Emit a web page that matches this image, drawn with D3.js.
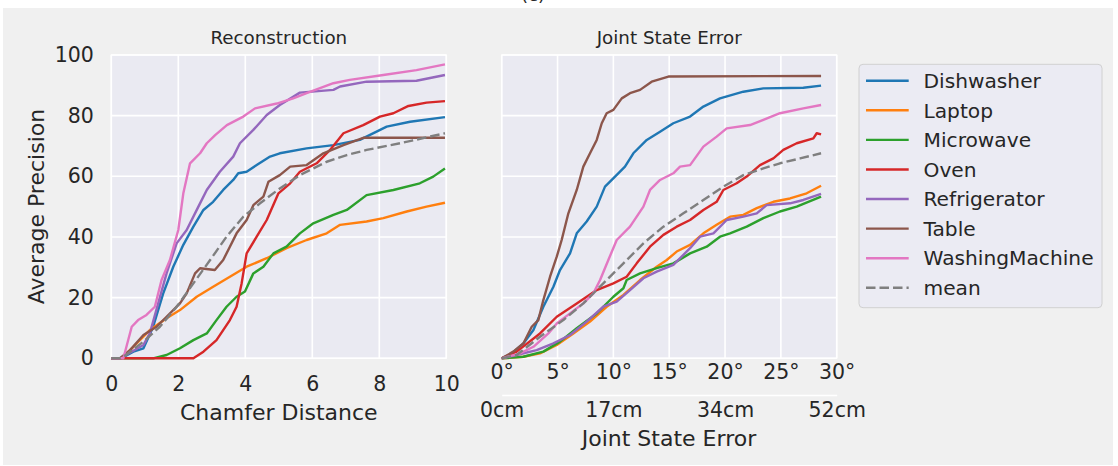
<!DOCTYPE html>
<html>
<head>
<meta charset="utf-8">
<script src="https://cdn.jsdelivr.net/npm/d3@7/dist/d3.min.js"></script>
<style>
body { margin: 0; background: #fff; }
text { font-family: "DejaVu Sans", sans-serif; fill: #262626; }
</style>
</head>
<body>
<div id="chart"></div>
<script>
// categories and colours
var categories = ["Dishwasher", "Laptop", "Microwave", "Oven", "Refrigerator", "Table", "WashingMachine", "mean"];
var colors = ["#1f77b4", "#ff7f0e", "#2ca02c", "#d62728", "#9467bd", "#8c564b", "#e377c2", "#7f7f7f"];

// left panel: chamfer distance vs AP
var reconDishwasher = [[0,0],[0.3,0],[0.66,2.2],[0.96,3.3],[1.25,10.4],[1.55,21.4],[1.85,30.2],[2.15,37.4],[2.45,43.4],[2.75,48.9],[3.04,51.6],[3.34,55.5],[3.64,58.8],[3.79,61],[4.04,61.5],[4.34,63.7],[4.74,66.5],[5.03,67.6],[5.83,69.2],[6.63,70.3],[7.42,72],[8.22,76.4],[8.92,78],[9.96,79.5]];
var reconLaptop = [[0,0],[0.3,0],[0.66,3.8],[1.15,9.3],[1.65,13.2],[2.05,15.9],[2.55,20.3],[3.04,23.6],[3.54,26.9],[4.04,30.2],[4.64,33],[5.23,36.3],[5.83,39],[6.43,41.2],[6.83,44],[7.62,45.1],[8.12,46.2],[8.82,48.4],[9.41,50],[9.96,51.3]];
var reconMicrowave = [[0,0],[1.25,0],[1.65,1.1],[2.05,3.3],[2.45,6],[2.85,8.2],[3.14,12.6],[3.44,17],[3.74,20.3],[3.99,22],[4.24,28],[4.54,30.2],[4.84,34.6],[5.23,36.8],[5.63,41.2],[6.03,44.5],[6.63,47.3],[7.03,48.9],[7.62,53.8],[8.42,55.5],[9.21,57.7],[9.61,59.9],[9.96,62.6]];
var reconOven = [[0,0],[2.45,0],[2.75,2.2],[3.14,6],[3.54,12.6],[3.74,17],[3.89,24.7],[4.04,34.6],[4.34,40.1],[4.64,45.6],[4.99,54.4],[5.34,57.7],[5.63,61.5],[6.13,64.3],[6.53,68.7],[6.93,74.2],[7.52,76.9],[8.02,79.7],[8.42,80.8],[8.87,83.2],[9.41,84.3],[9.96,84.8]];
var reconRefrigerator = [[0,0],[0.26,0],[0.96,4.4],[1.15,8.2],[1.4,18.1],[1.65,28],[1.95,37.9],[2.25,42.3],[2.6,50],[2.85,55.5],[3.24,61.5],[3.64,66.5],[3.84,70.9],[4.24,75.3],[4.64,80.2],[5.03,83.5],[5.63,87.6],[6.63,88.5],[6.83,89.6],[7.62,91.2],[9.11,91.5],[9.96,93.4]];
var reconTable = [[0,0],[0.26,0],[0.56,2.7],[0.96,7.7],[1.35,10.4],[1.65,13.7],[2.05,18.1],[2.25,21.4],[2.5,28],[2.65,29.7],[3.09,29.1],[3.34,32.4],[3.54,36.8],[3.74,41.2],[4.04,45.6],[4.24,50.5],[4.54,53.3],[4.69,58.2],[5.03,60.4],[5.34,63.2],[5.83,63.7],[6.33,67.6],[6.93,70.3],[7.52,72.7],[9.96,72.7]];
var reconWashingMachine = [[0,0],[0.36,0],[0.61,10.4],[0.8,12.6],[1.05,14.3],[1.3,17],[1.5,25.8],[1.75,32.4],[2.0,42.3],[2.15,54.4],[2.35,64.3],[2.65,67.6],[2.85,70.9],[3.1,73.6],[3.45,76.9],[3.94,79.7],[4.29,82.4],[4.94,84],[5.43,85.7],[5.83,87.4],[6.63,90.7],[7.12,91.8],[8.12,93.4],[9.11,95],[9.96,96.9]];
var reconMean = [[0,0],[0.3,0],[0.96,5.5],[1.45,10.4],[1.95,17],[2.45,24.7],[2.95,32.4],[3.44,40.1],[3.94,46.7],[4.44,51.1],[5.03,56],[5.63,60.4],[6.43,64.8],[7.03,67],[7.62,68.7],[8.62,70.9],[9.96,74.2]];

// right panel: joint state error (degrees) vs AP
var jointDishwasher = [[0,0],[0.75,1.1],[1.94,4.9],[2.84,9.3],[3.73,17],[4.63,23.6],[5.22,29.1],[6.12,34.6],[6.72,41.2],[7.61,45.1],[8.51,50],[9.25,56.6],[10.15,59.9],[11.04,63.2],[11.79,67.6],[12.99,72],[14.18,74.7],[15.37,77.5],[16.87,79.7],[18.06,83],[19.55,85.7],[21.64,87.9],[23.43,89],[27.01,89.2],[28.6,89.9]];
var jointLaptop = [[0,0],[1.94,0.5],[3.43,1.6],[4.93,4.4],[6.42,8.2],[7.91,12.1],[9.4,17],[10.9,20.9],[12.39,25.8],[13.88,30.2],[14.78,32.4],[15.67,35.2],[16.87,37.4],[18.06,41.2],[19.25,44],[20.45,46.7],[21.64,47.3],[22.84,49.5],[24.33,51.6],[25.82,52.7],[27.31,54.4],[28.6,56.9]];
var jointMicrowave = [[0,0],[1.94,0.5],[3.73,2.2],[5.22,5.5],[6.72,9.9],[8.51,14.8],[10.0,20.3],[10.9,23.1],[11.19,25.8],[12.39,28],[13.88,29.7],[15.37,31.3],[16.87,34.6],[18.36,36.8],[19.55,40.1],[20.45,41.2],[21.94,43.4],[23.43,46.2],[24.92,48.4],[26.42,50],[28.6,53.3]];
var jointOven = [[0,0],[1.34,2.2],[3.43,8.2],[4.93,13.7],[6.72,18.1],[8.51,22.5],[10.0,24.7],[11.19,26.9],[12.09,31.3],[13.28,36.8],[14.48,40.7],[15.67,43.4],[16.87,45.6],[18.06,48.9],[19.25,51.6],[19.85,55.5],[21.04,57.7],[21.94,59.9],[23.13,63.7],[24.33,65.9],[25.22,68.7],[26.42,70.9],[27.91,72.5],[28.21,74.2],[28.6,73.8]];
var jointRefrigerator = [[0,0],[1.34,1.1],[3.13,2.7],[4.63,4.9],[6.12,7.7],[7.61,12.1],[9.1,17],[10.3,18.7],[11.49,22.5],[12.69,26.4],[13.88,28.6],[15.37,30.8],[16.87,36.3],[17.76,40.1],[18.96,41.2],[20.15,45.6],[21.64,46.7],[22.84,47.8],[23.73,50.5],[25.82,51.1],[27.01,52.2],[28.6,54.2]];
var jointTable = [[0,0],[1.04,2.2],[1.94,4.9],[2.69,10.4],[3.28,12.6],[3.73,19.2],[4.33,26.9],[4.93,33.5],[5.37,39],[5.97,47.8],[6.72,55.5],[7.31,63.2],[7.91,67.6],[8.51,72],[8.96,77.5],[9.4,80.8],[10.0,81.9],[10.75,85.7],[11.49,87.4],[12.39,88.5],[13.43,91.2],[14.93,92.9],[28.6,93.1]];
var jointWashingMachine = [[0,0],[1.64,1.6],[2.84,3.8],[4.18,8.2],[4.93,11.5],[6.12,14.8],[7.31,18.1],[8.21,21.4],[8.81,25.8],[9.55,32.4],[10.3,39],[11.49,43.4],[12.69,50],[13.28,55.5],[14.18,58.8],[15.37,61],[15.97,63.2],[16.87,63.7],[18.06,69.8],[19.25,73.1],[20.15,75.8],[22.24,76.9],[23.43,78.6],[24.92,80.8],[27.01,82.4],[28.6,83.5]];
var jointMean = [[0,0],[1.34,1.1],[3.43,7.1],[5.52,12.6],[7.31,18.1],[9.1,24.7],[10.9,31.3],[12.69,37.9],[14.48,43.4],[16.27,47.8],[18.06,52.2],[19.85,56.6],[21.64,60.4],[23.43,62.6],[24.92,64.3],[26.72,65.9],[28.6,67.6]];

var reconSeries = [reconDishwasher, reconLaptop, reconMicrowave, reconOven, reconRefrigerator, reconTable, reconWashingMachine, reconMean];
var jointSeries = [jointDishwasher, jointLaptop, jointMicrowave, jointOven, jointRefrigerator, jointTable, jointWashingMachine, jointMean];

// tick labels
var reconTicks = [0, 2, 4, 6, 8, 10];
var apTicks = [0, 20, 40, 60, 80, 100];
var degTicks = [0, 5, 10, 15, 20, 25, 30];
var cmTickDeg = [0, 10, 20, 30];
var cmLabels = ["0cm", "17cm", "34cm", "52cm"];

var width = 1118, height = 466;

var svg = d3.select("#chart")
    .append("svg")
    .attr("width", width)
    .attr("height", height);

// figure background
svg.append("rect")
    .attr("x", 3).attr("y", 8)
    .attr("width", 1110).attr("height", 457)
    .attr("fill", "#f0f0f0");

svg.append("text")
    .attr("x", 533).attr("y", 1)
    .attr("text-anchor", "middle")
    .style("font-size", "18px")
    .text("(c)");

var plotTop = 55, plotBottom = 358.3;

var y = d3.scaleLinear().domain([0, 100]).range([plotBottom, plotTop]);
var xRecon = d3.scaleLinear().domain([0, 10]).range([111.3, 446.3]);
var xJoint = d3.scaleLinear().domain([0, 30]).range([501.7, 836.7]);

var line = function(x) {
    return d3.line().x(function(d) { return x(d[0]); }).y(function(d) { return y(d[1]); });
};

function drawPanel(x, xTicks, series, title) {
    var g = svg.append("g");
    g.append("rect")
        .attr("x", x.range()[0]).attr("y", plotTop)
        .attr("width", x.range()[1] - x.range()[0]).attr("height", plotBottom - plotTop)
        .attr("fill", "#eaeaf2")
        .attr("stroke", "#fff").attr("stroke-width", 1.25);

    // grid
    g.selectAll(".vgrid").data(xTicks).join("line")
        .attr("x1", function(d) { return x(d); }).attr("x2", function(d) { return x(d); })
        .attr("y1", plotTop).attr("y2", plotBottom)
        .attr("stroke", "#fff").attr("stroke-width", 1.6);
    g.selectAll(".hgrid").data(apTicks).join("line")
        .attr("x1", x.range()[0]).attr("x2", x.range()[1])
        .attr("y1", function(d) { return y(d); }).attr("y2", function(d) { return y(d); })
        .attr("stroke", "#fff").attr("stroke-width", 1.6);

    // curves, mean drawn last
    series.forEach(function(s, i) {
        g.append("path")
            .datum(s)
            .attr("d", line(x))
            .attr("fill", "none")
            .attr("stroke", colors[i])
            .attr("stroke-width", 2.4)
            .attr("stroke-linejoin", "round")
            .attr("stroke-dasharray", categories[i] == "mean" ? "9.5,4" : null);
    });

    g.append("text")
        .attr("x", (x.range()[0] + x.range()[1]) / 2).attr("y", 44)
        .attr("text-anchor", "middle")
        .style("font-size", "18.3px")
        .text(title);
    return g;
}

drawPanel(xRecon, reconTicks, reconSeries, "Reconstruction");
drawPanel(xJoint, degTicks, jointSeries, "Joint State Error");

function styleAxis(sel, ty) {
    sel.select(".domain").remove();
    sel.attr("font-family", null).attr("font-size", null);
    sel.selectAll("text").style("font-size", "20.5px").attr("fill", "#262626");
    if (ty != null) sel.selectAll("text").attr("y", ty).attr("dy", null);
}

// left y axis
svg.append("g")
    .attr("transform", "translate(111.3,0)")
    .call(d3.axisLeft(y).tickValues(apTicks).tickSize(0).tickPadding(17.5))
    .call(function(s) { styleAxis(s, null); });

// left x axis
svg.append("g")
    .attr("transform", "translate(0," + plotBottom + ")")
    .call(d3.axisBottom(xRecon).tickValues(reconTicks).tickSize(0))
    .call(function(s) { styleAxis(s, 33); });

// right x axis, degrees
svg.append("g")
    .attr("transform", "translate(0," + plotBottom + ")")
    .call(d3.axisBottom(xJoint).tickValues(degTicks).tickSize(0).tickFormat(function(d) { return d + "°"; }))
    .call(function(s) { styleAxis(s, 20.7); });

// secondary axis in cm
var cmAxis = svg.append("g")
    .attr("transform", "translate(0,395)")
    .call(d3.axisBottom(xJoint).tickValues(cmTickDeg).tickSize(0).tickFormat(function(d, i) { return cmLabels[i]; }));
cmAxis.select(".domain").attr("stroke", "#fff").attr("stroke-width", 1.6);
cmAxis.attr("font-family", null).attr("font-size", null);
cmAxis.selectAll("text").style("font-size", "20.5px").attr("fill", "#262626").attr("y", 22.3).attr("dy", null);

// axis labels
svg.append("text")
    .attr("transform", "translate(43.5,206.6) rotate(-90)")
    .attr("text-anchor", "middle")
    .style("font-size", "22px")
    .text("Average Precision");

svg.append("text")
    .attr("x", 278.8).attr("y", 419.5)
    .attr("text-anchor", "middle")
    .style("font-size", "22px")
    .text("Chamfer Distance");

svg.append("text")
    .attr("x", 669).attr("y", 445.5)
    .attr("text-anchor", "middle")
    .style("font-size", "22px")
    .text("Joint State Error");

// legend
var legend = svg.append("g");
legend.append("rect")
    .attr("x", 859).attr("y", 64.3)
    .attr("width", 243).attr("height", 243.4)
    .attr("rx", 4)
    .attr("fill", "#ebebf3")
    .attr("stroke", "#d0d0d0").attr("stroke-width", 1);

var item = legend.selectAll(".item").data(categories).join("g")
    .attr("transform", function(d, i) { return "translate(0," + (80.7 + i * 29.58) + ")"; });
item.append("line")
    .attr("x1", 866).attr("x2", 908.7)
    .attr("stroke", function(d, i) { return colors[i]; })
    .attr("stroke-width", 2.4)
    .attr("stroke-dasharray", function(d) { return d == "mean" ? "9.5,4" : null; });
item.append("text")
    .attr("x", 923.5).attr("y", 7.3)
    .style("font-size", "20.2px")
    .text(function(d) { return d; });
</script>
</body>
</html>
